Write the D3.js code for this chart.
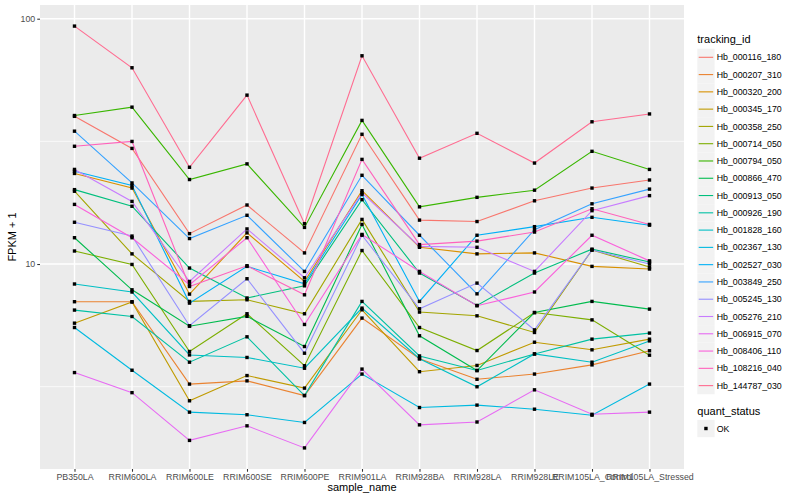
<!DOCTYPE html>
<html lang="en">
<head>
    <meta charset="UTF-8">
    <title>FPKM by sample</title>
    <script src="https://d3js.org/d3.v7.min.js"></script>
    <style>
        body { margin: 0; background: white; }
        svg { display: block; font-family: "Liberation Sans", Arial, sans-serif; }
    </style>
</head>
<body>
<svg id="canvas" width="800" height="500"></svg>
<script>
    // samples on the x axis
    const samples = ["PB350LA", "RRIM600LA", "RRIM600LE", "RRIM600SE", "RRIM600PE", "RRIM901LA",
        "RRIM928BA", "RRIM928LA", "RRIM928LE", "RRIM105LA_Control", "RRIM105LA_Stressed"];

    // FPKM + 1 per tracking id, one value per sample
    const hb_000116_180 = [40.0, 29.6, 13.3, 17.4, 11.1, 33.8, 15.1, 14.9, 18.1, 20.4, 22.0];
    const hb_000207_310 = [7.02, 7.02, 3.24, 3.34, 2.91, 6.02, 4.11, 3.39, 3.56, 3.88, 4.43];
    const hb_000320_200 = [23.4, 20.4, 7.54, 13.4, 8.49, 19.9, 11.7, 11.0, 11.1, 9.78, 9.54];
    const hb_000345_170 = [5.74, 7.00, 2.77, 3.51, 3.12, 6.51, 3.64, 3.86, 4.80, 4.47, 4.94];
    const hb_000358_250 = [19.8, 11.0, 7.04, 7.15, 6.27, 15.2, 6.37, 6.15, 5.26, 11.4, 9.72];
    const hb_000714_050 = [11.3, 9.96, 4.40, 6.27, 3.85, 11.35, 5.51, 4.44, 6.34, 5.92, 4.25];
    const hb_000794_050 = [40.3, 43.6, 22.1, 25.6, 14.1, 38.5, 17.1, 18.7, 20.0, 28.8, 24.3];
    const hb_000866_470 = [12.8, 7.85, 5.58, 6.12, 4.61, 14.5, 5.10, 3.68, 6.34, 7.04, 6.55];
    const hb_000913_050 = [20.1, 17.2, 9.63, 7.27, 8.15, 18.3, 9.19, 6.78, 9.19, 11.5, 10.2];
    const hb_000926_190 = [6.49, 6.11, 3.98, 5.05, 2.91, 7.04, 4.22, 3.68, 4.30, 4.94, 5.23];
    const hb_001828_160 = [8.29, 7.69, 4.26, 4.16, 3.76, 6.61, 4.11, 3.16, 4.30, 3.98, 4.86];
    const hb_002367_130 = [5.51, 3.69, 2.49, 2.43, 2.26, 3.56, 2.60, 2.66, 2.56, 2.42, 3.24];
    const hb_002527_030 = [23.9, 20.9, 6.93, 9.78, 8.31, 19.2, 7.04, 13.1, 14.2, 15.5, 14.4];
    const hb_003849_250 = [34.8, 21.4, 12.7, 15.8, 9.33, 23.0, 13.1, 7.56, 13.8, 17.6, 20.2];
    const hb_005245_130 = [14.8, 13.0, 5.60, 8.71, 4.33, 13.1, 6.57, 8.36, 5.39, 11.4, 10.0];
    const hb_005276_210 = [24.3, 18.0, 8.49, 13.9, 8.79, 19.5, 11.8, 11.7, 9.33, 16.5, 19.0];
    const hb_006915_070 = [3.61, 2.99, 1.91, 2.19, 1.78, 3.73, 2.21, 2.27, 3.07, 2.44, 2.49];
    const hb_008406_110 = [17.5, 12.8, 8.23, 12.8, 5.67, 13.2, 9.33, 6.76, 7.69, 13.1, 10.3];
    const hb_108216_040 = [30.2, 31.6, 8.10, 9.84, 7.49, 26.7, 12.0, 12.4, 13.5, 16.8, 14.5];
    const hb_144787_030 = [93.3, 63.1, 24.8, 48.8, 14.6, 70.6, 27.0, 34.1, 25.8, 38.0, 40.9];

    const trackingIds = ["Hb_000116_180", "Hb_000207_310", "Hb_000320_200", "Hb_000345_170",
        "Hb_000358_250", "Hb_000714_050", "Hb_000794_050", "Hb_000866_470", "Hb_000913_050",
        "Hb_000926_190", "Hb_001828_160", "Hb_002367_130", "Hb_002527_030", "Hb_003849_250",
        "Hb_005245_130", "Hb_005276_210", "Hb_006915_070", "Hb_008406_110", "Hb_108216_040",
        "Hb_144787_030"];
    const seriesValues = [hb_000116_180, hb_000207_310, hb_000320_200, hb_000345_170,
        hb_000358_250, hb_000714_050, hb_000794_050, hb_000866_470, hb_000913_050,
        hb_000926_190, hb_001828_160, hb_002367_130, hb_002527_030, hb_003849_250,
        hb_005245_130, hb_005276_210, hb_006915_070, hb_008406_110, hb_108216_040,
        hb_144787_030];

    // ggplot default hue palette for 20 groups
    const hueColors = ["#F8766D", "#EA8331", "#D89000", "#C09B00", "#A3A500", "#7CAE00", "#39B600",
        "#00BB4E", "#00BF7D", "#00C1A3", "#00BFC4", "#00BAE0", "#00B0F6", "#35A2FF", "#9590FF",
        "#C77CFF", "#E76BF3", "#FA62DB", "#FF62BC", "#FF6C91"];

    const yTicks = [10, 100];
    const yMinor = [Math.sqrt(10), Math.sqrt(1000)];
    const quantStatus = ["OK"];

    let series = trackingIds.map(function (id, i) {
        return {id: id, color: hueColors[i], values: seriesValues[i].map(function (v, j) {
            return {sample: samples[j], value: v};
        })};
    });

    let svg = d3.select('svg');
    let panel = {left: 40, right: 684, top: 5, bottom: 469};

    let x = d3.scalePoint()
        .domain(samples)
        .range([panel.left, panel.right])
        .padding(0.6);

    // log scale, expanded by 5% like ggplot
    let ext = d3.extent(seriesValues.flat());
    let lo = Math.log10(ext[0]), hi = Math.log10(ext[1]);
    let pad = (hi - lo) * 0.05;
    let y = d3.scaleLog()
        .domain([Math.pow(10, lo - pad), Math.pow(10, hi + pad)])
        .range([panel.bottom, panel.top]);

    // panel background + grid
    svg.append('rect')
        .attr('x', panel.left).attr('y', panel.top)
        .attr('width', panel.right - panel.left).attr('height', panel.bottom - panel.top)
        .attr('fill', '#EBEBEB');

    let grid = svg.append('g');
    grid.selectAll('line.minor')
        .data(yMinor.filter(function (v) { return v > y.domain()[0] && v < y.domain()[1]; }))
        .enter().append('line')
        .attr('x1', panel.left).attr('x2', panel.right)
        .attr('y1', function (d) { return y(d); }).attr('y2', function (d) { return y(d); })
        .attr('stroke', 'white').attr('stroke-width', 0.7);
    grid.selectAll('line.majorY')
        .data(yTicks)
        .enter().append('line')
        .attr('x1', panel.left).attr('x2', panel.right)
        .attr('y1', function (d) { return y(d); }).attr('y2', function (d) { return y(d); })
        .attr('stroke', 'white').attr('stroke-width', 1.4);
    grid.selectAll('line.majorX')
        .data(samples)
        .enter().append('line')
        .attr('x1', function (d) { return x(d); }).attr('x2', function (d) { return x(d); })
        .attr('y1', panel.top).attr('y2', panel.bottom)
        .attr('stroke', 'white').attr('stroke-width', 1.4);

    // lines
    let line = d3.line()
        .x(function (d) { return x(d.sample); })
        .y(function (d) { return y(d.value); });

    svg.append('g').selectAll('path')
        .data(series)
        .enter().append('path')
        .attr('d', function (d) { return line(d.values); })
        .attr('fill', 'none')
        .attr('stroke', function (d) { return d.color; })
        .attr('stroke-width', 1.1);

    // points
    let pts = series.flatMap(function (s) { return s.values; });
    svg.append('g').selectAll('rect')
        .data(pts)
        .enter().append('rect')
        .attr('x', function (d) { return x(d.sample) - 1.7; })
        .attr('y', function (d) { return y(d.value) - 1.7; })
        .attr('width', 3.4).attr('height', 3.4)
        .attr('fill', 'black');

    // axes
    let yAxis = svg.append('g')
        .attr('transform', 'translate(' + panel.left + ',0)')
        .call(d3.axisLeft(y).tickValues(yTicks).tickFormat(d3.format('d')).tickSize(2.75).tickPadding(2));
    let xAxis = svg.append('g')
        .attr('transform', 'translate(0,' + panel.bottom + ')')
        .call(d3.axisBottom(x).tickSize(2.75).tickPadding(2));
    [yAxis, xAxis].forEach(function (a) {
        a.select('.domain').remove();
        a.selectAll('.tick line').attr('stroke', '#333333').attr('stroke-width', 1.07);
        a.selectAll('.tick text').attr('fill', '#4D4D4D')
            .style('font-size', '8.8px').style('font-family', '"Liberation Sans", Arial, sans-serif');
    });

    svg.append('text')
        .attr('x', (panel.left + panel.right) / 2).attr('y', 491)
        .attr('text-anchor', 'middle')
        .style('font-size', '11px')
        .text('sample_name');
    svg.append('text')
        .attr('transform', 'translate(16,' + (panel.top + panel.bottom) / 2 + ') rotate(-90)')
        .attr('text-anchor', 'middle')
        .style('font-size', '11px')
        .text('FPKM + 1');

    // legend: tracking_id
    let keySize = 17.28;
    let legend = svg.append('g').attr('transform', 'translate(697.3,0)');
    legend.append('text').attr('x', 0).attr('y', 43).style('font-size', '11px').text('tracking_id');
    let keys = legend.selectAll('g.key')
        .data(series)
        .enter().append('g')
        .attr('transform', function (d, i) { return 'translate(0,' + (57.3 + i * keySize) + ')'; });
    keys.append('rect')
        .attr('x', 0).attr('y', -keySize / 2)
        .attr('width', keySize).attr('height', keySize)
        .attr('fill', '#F2F2F2');
    keys.append('line')
        .attr('x1', 1.4).attr('x2', keySize - 1.4)
        .attr('stroke', function (d) { return d.color; })
        .attr('stroke-width', 1.1);
    keys.append('text')
        .attr('x', 19.4).attr('dy', '0.35em')
        .style('font-size', '8.8px')
        .text(function (d) { return d.id; });

    // legend: quant_status
    legend.append('text').attr('x', 0).attr('y', 414.5).style('font-size', '11px').text('quant_status');
    let qKeys = legend.selectAll('g.qkey')
        .data(quantStatus)
        .enter().append('g')
        .attr('transform', function (d, i) { return 'translate(0,' + (428.5 + i * keySize) + ')'; });
    qKeys.append('rect')
        .attr('x', 0).attr('y', -keySize / 2)
        .attr('width', keySize).attr('height', keySize)
        .attr('fill', '#F2F2F2');
    qKeys.append('rect')
        .attr('x', keySize / 2 - 1.7).attr('y', -1.7)
        .attr('width', 3.4).attr('height', 3.4)
        .attr('fill', 'black');
    qKeys.append('text')
        .attr('x', 19.4).attr('dy', '0.35em')
        .style('font-size', '8.8px')
        .text(function (d) { return d; });
</script>
</body>
</html>
